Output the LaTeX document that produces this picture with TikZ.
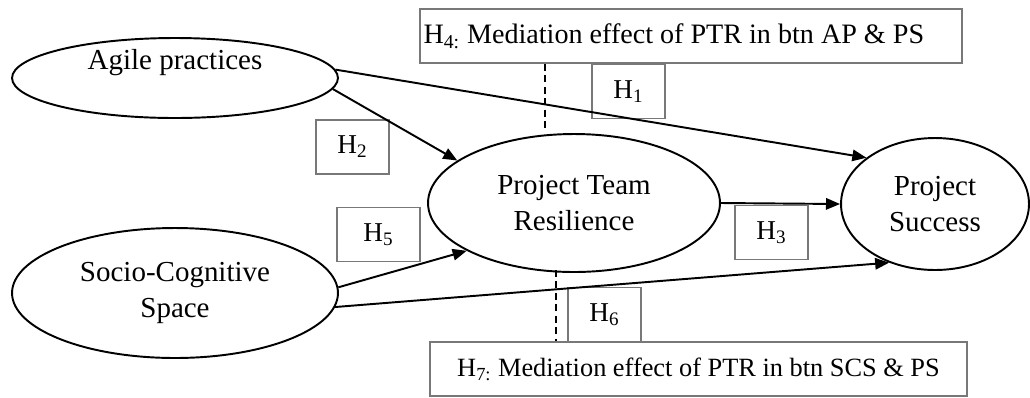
\documentclass[tikz,border=0pt]{standalone}
\usepackage{fontspec}
\setmainfont{Liberation Serif}
\usetikzlibrary{shapes.geometric,positioning,arrows.meta}
\definecolor{boxgray}{RGB}{120,120,120}

\begin{document}
\begin{tikzpicture}[x=0.02cm,y=-0.02cm,line width=1.1pt,
  >={Triangle[length=8pt,width=6.5pt]},
  latent/.style={draw,ellipse,inner sep=0pt,align=center,
    font=\fontsize{16.5}{20}\selectfont},
  hbox/.style={draw=boxgray,rectangle,inner sep=0pt,minimum width=1.46cm,
    minimum height=1.08cm,font=\fontsize{15.5}{18}\selectfont},
  medbox/.style={draw=boxgray,rectangle,inner ysep=0pt,minimum height=1.08cm},
  medline/.style={line width=0.8pt,dash pattern=on 4pt off 2.5pt}]

  \useasboundingbox (0,0) rectangle (1030,397);

  \node[latent,minimum width=6.52cm,minimum height=1.6cm,
    label={[yshift=0.3cm,font=\fontsize{16.5}{20}\selectfont]center:Agile practices}] (ap) at (175,78) {};
  \node[latent,minimum width=6.52cm,minimum height=2.6cm] (scs) at (175,293) {Socio-Cognitive\\Space};
  \node[latent,minimum width=5.84cm,minimum height=2.76cm] (ptr) at (574,203) {Project Team\\Resilience};
  \node[latent,minimum width=3.76cm,minimum height=2.64cm] (ps) at (935,204) {Project\\Success};

  % mediation boxes
  \node[medbox,text width=10.70cm,inner xsep=2pt,align=flush left,font=\fontsize{16}{19}\selectfont] (h4) at (691,36)
    {H\textsubscript{4:} Mediation effect of PTR in btn AP \& PS};
  \node[medbox,minimum width=10.74cm,font=\fontsize{15}{18}\selectfont] (h7) at (698.5,369)
    {H\textsubscript{7:} Mediation effect of PTR in btn SCS \& PS};

  % hypothesis labels
  \node[hbox] (h1) at (628.5,91.5) {H\textsubscript{1}};
  \node[hbox] (h2) at (352.5,147) {H\textsubscript{2}};
  \node[hbox] (h3) at (771.5,232.5) {H\textsubscript{3}};
  \node[hbox,minimum width=1.66cm] (h5) at (378.5,234.5) {H\textsubscript{5}};
  \node[hbox] (h6) at (604.5,314.5) {H\textsubscript{6}};

  % paths
  \draw (ap.3) edge[->] (ps.146)
        (ap.-4) edge[->] (ptr.160)
        (scs.2) edge[->] (ptr.204)
        (scs.-5) edge[->] (ps.232)
        (ptr.east) edge[->] (ps.west);

  % dashed links to mediation boxes
  \coordinate (apex) at (545,128);
  \coordinate (base) at (556,270);
  \draw[medline] (h4.south -| apex) -- (apex);
  \draw[medline] (base) -- (base |- h7.north);

\end{tikzpicture}
\end{document}
